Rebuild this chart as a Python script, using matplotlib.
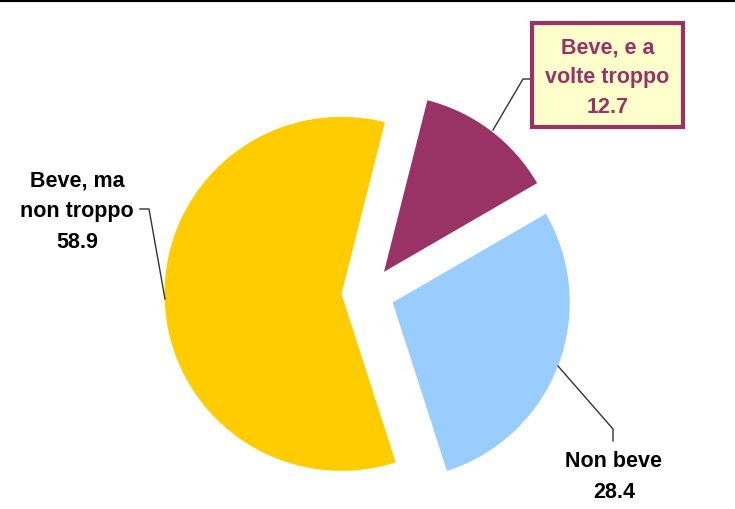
import matplotlib
matplotlib.use("Agg")
import matplotlib.pyplot as plt
from matplotlib.patches import Rectangle

categories = ["Beve, e a\nvolte troppo", "Non beve", "Beve, ma\nnon troppo"]
values = [12.7, 28.4, 58.9]
colors = ["#993366", "#99CCFF", "#FFCC00"]

W, H = 735, 510
fig = plt.figure(figsize=(W / 100, H / 100), dpi=100)
ax = fig.add_axes([0, 0, 1, 1])

def Y(y):
    return H - y

R = 177
ax.pie(values, colors=colors, startangle=75.8, counterclock=False,
       explode=[26.5, 26.5, 26.5], center=(368, Y(294)), radius=R,
       wedgeprops=dict(linewidth=0), frame=True)
ax.set_xlim(0, W)
ax.set_ylim(0, H)
ax.set_aspect("equal")
ax.axis("off")

font = dict(family="Liberation Sans", weight="bold", fontsize=15.5)
lc = "#333333"

# top border line
ax.plot([0, W], [Y(1), Y(1)], color="black", lw=3, solid_capstyle="butt")

# label: Beve, e a volte troppo (boxed)
ax.add_patch(Rectangle((532, Y(128)), 151, 104, facecolor="#FFFFCC",
                       edgecolor="#993366", lw=3, zorder=3))
ax.text(607.5, Y(78), f"{categories[0]}\n{values[0]:.1f}", ha="center", va="center",
        color="#993366", linespacing=1.55, zorder=4, **font)
ax.plot([531, 523, 493], [Y(80), Y(80), Y(131)], color=lc, lw=1)

# label: Beve, ma non troppo
ax.text(77, Y(212), f"{categories[2]}\n{values[2]:.1f}", ha="center", va="center",
        color="black", linespacing=1.6, **font)
ax.plot([140, 149, 165], [Y(210), Y(210), Y(300)], color=lc, lw=1)

# label: Non beve
ax.text(614, Y(477), f"{categories[1]}\n{values[1]:.1f}", ha="center", va="center",
        color="black", linespacing=1.6, **font)
ax.plot([558, 613, 613], [Y(367), Y(430), Y(442)], color=lc, lw=1)

fig.savefig("out.png", dpi=100)
